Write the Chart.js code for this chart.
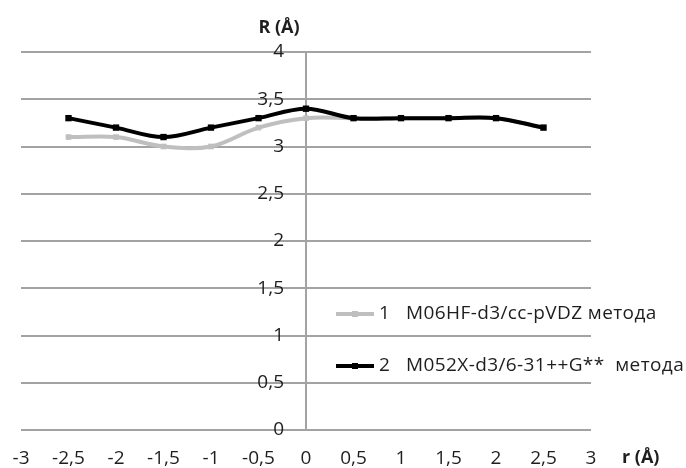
<!DOCTYPE html>
<html>
<head>
<meta charset="utf-8">
<script src="https://cdn.jsdelivr.net/npm/chart.js@4/dist/chart.umd.min.js"></script>
<style>
  html, body { margin: 0; padding: 0; background: #fff; }
  #wrap { width: 686px; height: 468px; }
</style>
</head>
<body>
<div id="wrap"><canvas id="chart"></canvas></div>
<script>
// r (Å) positions and R (Å) values
const rValues = [-2.5, -2, -1.5, -1, -0.5, 0, 0.5, 1, 1.5, 2, 2.5];
const m06hfValues = [3.1, 3.1, 3.0, 3.0, 3.2, 3.3, 3.3, 3.3, 3.3, 3.3, 3.2];
const m052xValues = [3.3, 3.2, 3.1, 3.2, 3.3, 3.4, 3.3, 3.3, 3.3, 3.3, 3.2];
const seriesNames = ["1  M06HF-d3/cc-pVDZ метода", "2  M052X-d3/6-31++G**  метода"];
const xRange = [-3, 3, 0.5];
const yRange = [0, 4, 0.5];
const xTitle = "r (Å)";
const yTitle = "R (Å)";

const TEXT = "#1e1e1e";
const GRID = "#a3a3a3";
const FONT = '"Open Sans", sans-serif';
const fmt = v => String(v).replace(".", ",");

const toPoints = vals => rValues.map((r, i) => ({ x: r, y: vals[i] }));

// y labels sit left of the r=0 axis, titles and legend drawn by hand (Excel style)
const decor = {
  id: "decor",
  afterDraw(chart) {
    const { ctx, chartArea: a, scales: { x, y } } = chart;
    const x0 = x.getPixelForValue(0);
    ctx.save();
    ctx.fillStyle = TEXT;

    ctx.font = "19px " + FONT;
    ctx.textAlign = "right";
    ctx.textBaseline = "middle";
    y.ticks.forEach(t => ctx.fillText(fmt(t.value), x0 - 22, y.getPixelForValue(t.value)));

    ctx.font = "bold 18px " + FONT;
    ctx.textBaseline = "alphabetic";
    ctx.textAlign = "center";
    ctx.fillText(yTitle, x0 - 27, a.top - 19);
    ctx.textAlign = "left";
    ctx.fillText(xTitle, a.right + 31, 463);

    const legLeft = 336, legTop = 314, legGap = 52;
    chart.data.datasets.forEach((ds, i) => {
      const ly = legTop + i * legGap;
      ctx.strokeStyle = ds.borderColor;
      ctx.lineWidth = ds.borderWidth;
      ctx.beginPath();
      ctx.moveTo(legLeft, ly);
      ctx.lineTo(legLeft + 38, ly);
      ctx.stroke();
      ctx.fillStyle = ds.borderColor;
      ctx.fillRect(legLeft + 16, ly - 3, 6, 6);

      const cut = ds.label.indexOf(" ");
      ctx.fillStyle = TEXT;
      ctx.font = "19px " + FONT;
      ctx.letterSpacing = "0.4px";
      ctx.textBaseline = "middle";
      ctx.fillText(ds.label.slice(0, cut), legLeft + 43, ly);
      ctx.fillText(ds.label.slice(cut).trim(), legLeft + 70, ly);
    });
    ctx.restore();
  }
};

new Chart(document.getElementById("chart"), {
  type: "line",
  data: {
    datasets: [
      {
        label: seriesNames[0],
        data: toPoints(m06hfValues),
        borderColor: "#bfbfbf",
        backgroundColor: "#bfbfbf",
        borderWidth: 4,
        pointStyle: "rect",
        pointRadius: 4,
        pointBorderWidth: 0,
        tension: 0.35,
        order: 1
      },
      {
        label: seriesNames[1],
        data: toPoints(m052xValues),
        borderColor: "#000000",
        backgroundColor: "#000000",
        borderWidth: 4,
        pointStyle: "rect",
        pointRadius: 4.5,
        pointBorderWidth: 0,
        tension: 0.35,
        order: 0
      }
    ]
  },
  options: {
    responsive: true,
    maintainAspectRatio: false,
    animation: false,
    layout: { padding: { left: 21, right: 95, top: 52, bottom: 0 } },
    plugins: { legend: { display: false }, tooltip: { enabled: false } },
    scales: {
      x: {
        type: "linear",
        min: xRange[0],
        max: xRange[1],
        grid: { display: false, drawTicks: false },
        border: { display: false },
        ticks: {
          stepSize: xRange[2],
          autoSkip: false,
          maxRotation: 0,
          padding: 17,
          color: TEXT,
          font: { family: FONT, size: 19 },
          callback: v => fmt(v)
        },
        afterFit: s => {
          s.height = 38;
          s.paddingLeft = 0;
          s.paddingRight = 0;
        }
      },
      y: {
        type: "linear",
        position: { x: 0 },
        min: yRange[0],
        max: yRange[1],
        grid: { color: GRID, lineWidth: 2, drawTicks: false },
        border: { display: true, color: GRID, width: 2 },
        ticks: {
          stepSize: yRange[2],
          display: false
        }
      }
    }
  },
  plugins: [decor]
});
</script>
</body>
</html>
